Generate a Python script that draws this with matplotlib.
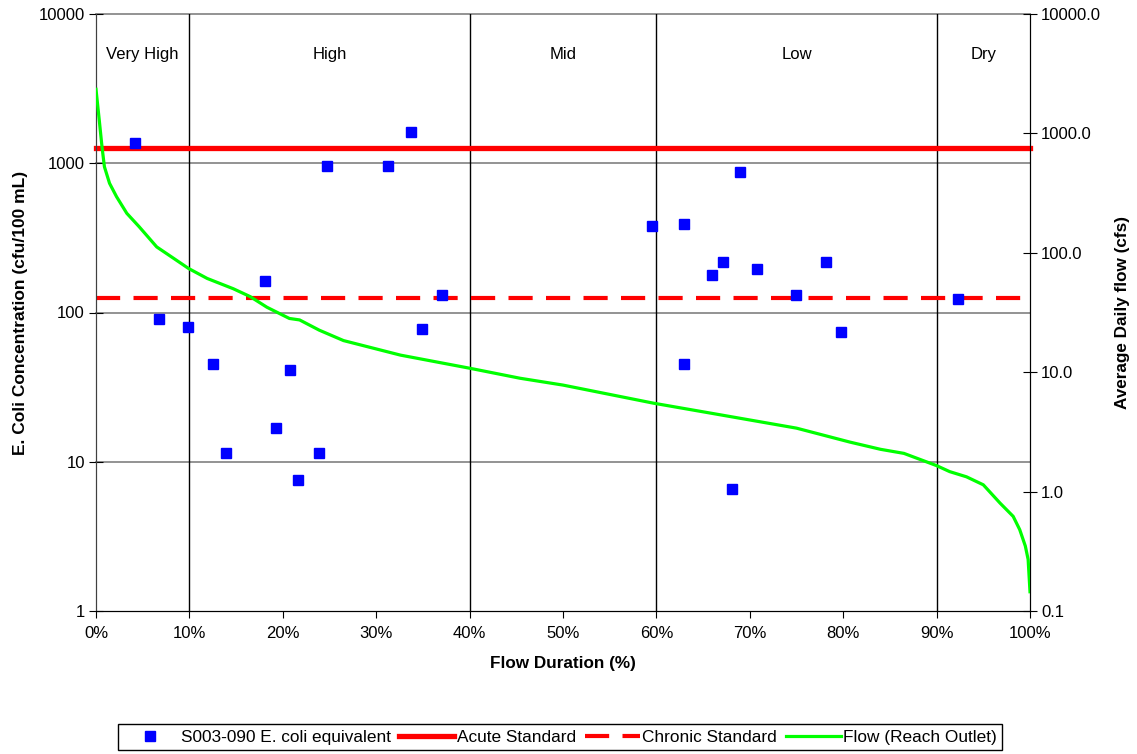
import matplotlib
matplotlib.use("Agg")
import matplotlib.pyplot as plt
from matplotlib.lines import Line2D
from matplotlib.ticker import FixedLocator, FixedFormatter, NullLocator

plt.rcParams["font.family"] = ["Liberation Sans", "DejaVu Sans"]

# datos de muestras E. coli (% duracion, cfu/100 mL)
muestra_pct = [4.2, 6.7, 9.9, 12.5, 13.9, 18.1, 19.3, 20.8, 21.6, 23.9, 24.7, 31.3,
               33.7, 34.9, 37.0, 59.5, 63.0, 63.0, 66.0, 67.1, 68.9, 68.1, 70.8,
               74.9, 78.2, 79.8, 92.3]
muestra_ecoli = [1370, 90, 80, 45, 11.4, 163, 16.8, 41, 7.6, 11.4, 960, 960,
                 1620, 77, 131, 380, 392, 45, 178, 218, 880, 6.6, 196,
                 131, 218, 74, 123]

# curva de duracion de caudal (% , cfs)
flujo_pct = [0, 0.35, 0.64, 0.9, 1.45, 2.2, 3.3, 4.6, 6.5, 8.3, 9.9, 11.9, 14.7,
             16.5, 18.3, 20.7, 21.8, 23.9, 26.5, 32.6, 40.0, 45.4, 50.0, 59.7,
             66.1, 75.0, 80.7, 84.0, 86.5, 90.0, 91.4, 93.2, 95.0, 96.8, 98.2,
             98.9, 99.5, 99.8, 100]
flujo_cfs = [2340, 1290, 775, 526, 382, 295, 214, 166, 112, 90, 74, 61, 50,
             43, 35, 28.2, 27.4, 22.5, 18.4, 13.9, 10.8, 8.9, 7.8, 5.5,
             4.5, 3.4, 2.6, 2.26, 2.09, 1.65, 1.47, 1.33, 1.14, 0.80, 0.62,
             0.48, 0.35, 0.27, 0.145]

# estandares
estandar_agudo = 1260
estandar_cronico = 126

# zonas de caudal
limites_zonas = [10, 40, 60, 90]
nombres_zonas = ["Very High", "High", "Mid", "Low", "Dry"]
centros_zonas = [5, 25, 50, 75, 95]

fig = plt.figure(figsize=(11.37, 7.54), dpi=100)
ax = fig.add_axes([96 / 1137, 1 - 611 / 754, 934 / 1137, 597 / 754])
ax2 = ax.twinx()

ax.set_yscale("log")
ax.set_ylim(1, 10000)
ax.set_xlim(0, 100)
ax2.set_yscale("log")
ax2.set_ylim(0.1, 10000)

# lineas de cuadricula
for v in [10, 100, 1000, 10000]:
    ax.axhline(v, color="#808080", lw=1.2, zorder=1, clip_on=False)
for x in limites_zonas:
    ax.axvline(x, color="black", lw=1.0, zorder=1)

for nombre, cx in zip(nombres_zonas, centros_zonas):
    ax.text(cx, 0.932, nombre, transform=ax.get_xaxis_transform(),
            ha="center", va="center", fontsize=12)

ax.axhline(estandar_agudo, color="#FF0000", lw=3.8, zorder=3, clip_on=False)
ax.axhline(estandar_cronico, color="#FF0000", lw=3.0, dashes=(5.8, 3.2), zorder=3, clip_on=False)
ax.plot(muestra_pct, muestra_ecoli, "s", color="#0000FF", markersize=7, zorder=5, clip_on=False)
ax2.plot(flujo_pct, flujo_cfs, color="#00FF00", lw=2.3, zorder=4)

# ejes
ax.xaxis.set_major_locator(FixedLocator(list(range(0, 101, 10))))
ax.xaxis.set_major_formatter(FixedFormatter([f"{v}%" for v in range(0, 101, 10)]))
ax.yaxis.set_major_locator(FixedLocator([1, 10, 100, 1000, 10000]))
ax.yaxis.set_major_formatter(FixedFormatter(["1", "10", "100", "1000", "10000"]))
ax.yaxis.set_minor_locator(NullLocator())
ax2.yaxis.set_major_locator(FixedLocator([0.1, 1, 10, 100, 1000, 10000]))
ax2.yaxis.set_major_formatter(FixedFormatter(["0.1", "1.0", "10.0", "100.0", "1000.0", "10000.0"]))
ax2.yaxis.set_minor_locator(NullLocator())

ax.tick_params(axis="x", direction="out", length=5, labelsize=12, pad=6)
ax.tick_params(axis="y", direction="inout", length=10, labelsize=12, pad=3)
ax2.tick_params(axis="y", direction="inout", length=10, labelsize=12, pad=3)

for a in (ax, ax2):
    a.spines["top"].set_visible(False)
    a.spines["left"].set_color("#404040")
    a.spines["bottom"].set_color("black")
    a.spines["right"].set_color("black")

ax.set_xlabel("Flow Duration (%)", fontsize=12.3, fontweight="bold")
ax.set_ylabel("E. Coli Concentration (cfu/100 mL)", fontsize=12.5, fontweight="bold")
ax2.set_ylabel("Average Daily flow (cfs)", fontsize=12.3, fontweight="bold")
ax.xaxis.set_label_coords(0.5, -0.075)
ax.yaxis.set_label_coords(-0.073, 0.5)
ax2.yaxis.set_label_coords(1.091, 0.5)

# leyenda
handles = [
    Line2D([], [], ls="none", marker="s", color="#0000FF", markersize=7),
    Line2D([], [], color="#FF0000", lw=3.8),
    Line2D([], [], color="#FF0000", lw=3.0, dashes=(5.8, 3.2)),
    Line2D([], [], color="#00FF00", lw=2.3),
]
labels = ["S003-090 E. coli equivalent", "Acute Standard", "Chronic Standard", "Flow (Reach Outlet)"]
leg = fig.legend(handles, labels, loc="center", bbox_to_anchor=(0.4925, 0.0225), ncol=4,
                 prop={"size": 12.4},
                 handlelength=3.2, handletextpad=0.15, columnspacing=0.5, borderpad=0.3,
                 fancybox=False, framealpha=1)
leg.get_frame().set_edgecolor("black")
leg.get_frame().set_linewidth(1.0)

fig.savefig("out.png", dpi=100)
